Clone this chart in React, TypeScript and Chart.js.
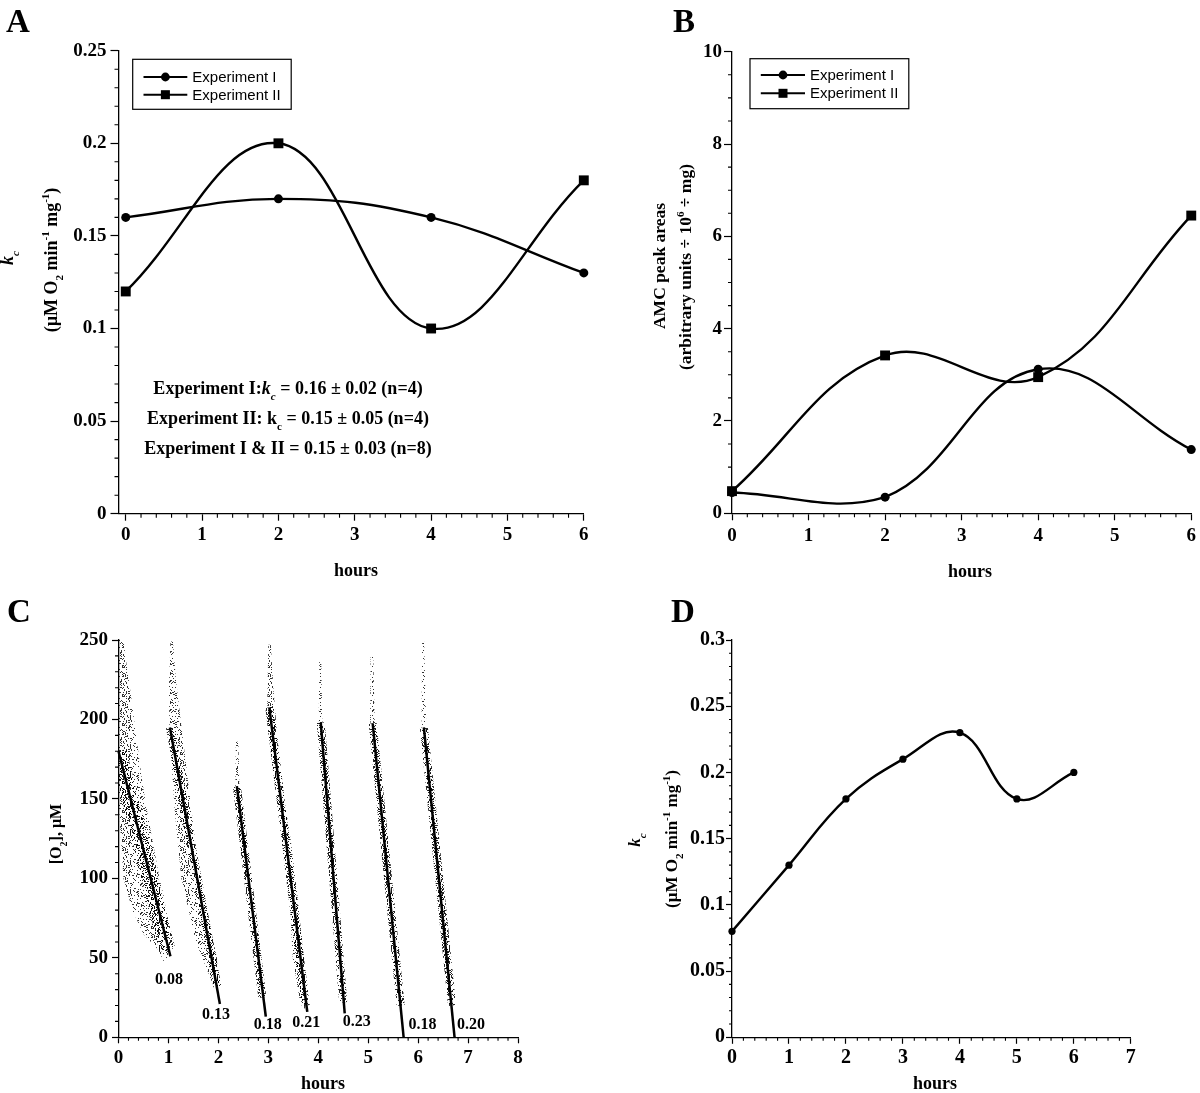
import React, { useEffect, useRef } from 'react';
import { Chart, registerables } from 'chart.js';

Chart.register(...registerables);

const SERIF = '"Liberation Serif", "Times New Roman", Times, serif';
const SANS = '"Liberation Sans", Arial, Helvetica, sans-serif';

// ---------------- Panel A : k_c vs hours ----------------
const seriesLabels = ['Experiment I', 'Experiment II'];
const hoursA = [0, 2, 4, 6];
const kcExperimentI = [0.16, 0.17, 0.16, 0.13];
const kcExperimentII = [0.12, 0.2, 0.1, 0.18];
const xTicksA = [0, 1, 2, 3, 4, 5, 6];
const yTicksA = [0, 0.05, 0.1, 0.15, 0.2, 0.25];

// ---------------- Panel B : AMC peak areas ----------------
const hoursB = [0, 2, 4, 6];
const amcExperimentI = [0.45, 0.35, 3.12, 1.38];
const amcExperimentII = [0.48, 3.42, 2.95, 6.45];
const xTicksB = [0, 1, 2, 3, 4, 5, 6];
const yTicksB = [0, 2, 4, 6, 8, 10];

// ---------------- Panel C : [O2] traces ----------------
const runStartHours = [0, 1.03, 2.37, 3.02, 4.05, 5.09, 6.115];
const runStartO2 = [180, 195, 158, 207.6, 198, 197.6, 195];
const runEndHours = [1.04, 2.03, 2.95, 3.78, 4.53, 5.71, 6.73];
const runEndO2 = [51, 21, 13, 16, 15, 0, 0];
const runRateLabels = ['0.08', '0.13', '0.18', '0.21', '0.23', '0.18', '0.20'];
const runLabelHours = [1.01, 1.95, 2.99, 3.76, 4.77, 6.09, 7.06];
const runLabelO2 = [36, 14, 8, 9, 10, 8, 8];
// end of the dense part of each measured trace, [hours, µM]
const traceEndHours = [0.98, 1.98, 2.88, 3.75, 4.5, 5.65, 6.68];
const traceEndO2 = [55, 32, 25, 20, 22, 20, 20];
// envelopes of the measured point clouds, [hours, µM]
const cloudRun1 = [[0.0, 250], [0.0, 150], [0.05, 125], [0.1, 100], [0.28, 80], [0.5, 65], [0.8, 55], [0.9, 48], [1.02, 50], [1.0, 70], [0.9, 90], [0.82, 100], [0.68, 124], [0.58, 141], [0.47, 162], [0.34, 193], [0.25, 215], [0.16, 235], [0.1, 250]];
const cloudRun2 = [[1.04, 249], [1.01, 220], [1.02, 193], [1.13, 141], [1.26, 100], [1.55, 60], [1.87, 35], [1.97, 30], [2.02, 33], [1.97, 50], [1.88, 62], [1.68, 92], [1.58, 110], [1.47, 141], [1.27, 193], [1.15, 225], [1.09, 249]];
const cloudRun3 = [[2.35, 186], [2.34, 158], [2.43, 130], [2.55, 100], [2.67, 70], [2.79, 40], [2.86, 24], [2.93, 24], [2.89, 40], [2.77, 70], [2.65, 100], [2.54, 130], [2.42, 158], [2.4, 186]];
const cloudRun4 = [[3.0, 247], [2.98, 210], [3.0, 193], [3.18, 150], [3.31, 124], [3.42, 90], [3.49, 50], [3.62, 25], [3.72, 18], [3.78, 20], [3.71, 50], [3.58, 90], [3.45, 124], [3.32, 150], [3.17, 193], [3.1, 220], [3.05, 247]];
const cloudRun5 = [[4.02, 237], [4.01, 200], [4.13, 150], [4.26, 100], [4.39, 50], [4.47, 22], [4.53, 22], [4.49, 50], [4.35, 100], [4.22, 150], [4.08, 200], [4.06, 237]];
const cloudRun6 = [[5.05, 241], [5.04, 200], [5.19, 150], [5.35, 100], [5.5, 50], [5.6, 20], [5.68, 20], [5.6, 50], [5.44, 100], [5.29, 150], [5.13, 200], [5.1, 241]];
const cloudRun7 = [[6.08, 249], [6.07, 200], [6.21, 150], [6.37, 100], [6.52, 50], [6.62, 20], [6.7, 20], [6.62, 50], [6.46, 100], [6.3, 150], [6.16, 200], [6.12, 249]];
const cloudRuns = [cloudRun1, cloudRun2, cloudRun3, cloudRun4, cloudRun5, cloudRun6, cloudRun7];
const xTicksC = [0, 1, 2, 3, 4, 5, 6, 7, 8];
const yTicksC = [0, 50, 100, 150, 200, 250];

// ---------------- Panel D : k_c vs hours ----------------
const hoursD = [0, 1, 2, 3, 4, 5, 6];
const kcD = [0.08, 0.13, 0.18, 0.21, 0.23, 0.18, 0.2];
const xTicksD = [0, 1, 2, 3, 4, 5, 6, 7];
const yTicksD = [0, 0.05, 0.1, 0.15, 0.2, 0.25, 0.3];

// ---------------- helpers ----------------
type Seg = { t: string; it?: boolean; s?: 'sub' | 'sup' };

function drawRich(ctx: any, segs: Seg[], x: number, y: number, size: number, align: 'left' | 'center', rot = 0) {
  ctx.save();
  ctx.translate(x, y);
  ctx.rotate(rot);
  ctx.textBaseline = 'alphabetic';
  ctx.textAlign = 'left';
  ctx.fillStyle = '#000';
  const fontOf = (sg: Seg) => `${sg.it ? 'italic ' : ''}bold ${sg.s ? Math.round(size * 0.62) : size}px ${SERIF}`;
  let w = 0;
  for (const sg of segs) {
    ctx.font = fontOf(sg);
    w += ctx.measureText(sg.t).width;
  }
  let cx = align === 'center' ? -w / 2 : 0;
  for (const sg of segs) {
    ctx.font = fontOf(sg);
    const dy = sg.s === 'sub' ? size * 0.35 : sg.s === 'sup' ? -size * 0.42 : 0;
    ctx.fillText(sg.t, cx, dy);
    cx += ctx.measureText(sg.t).width;
  }
  ctx.restore();
}

const pts = (xs: number[], ys: number[]) => xs.map((x, i) => ({ x, y: ys[i] }));
const fmt = (v: any) => String(Number(Number(v).toFixed(4)));

function linearAxis(o: any) {
  return {
    type: 'linear',
    position: o.horizontal ? 'bottom' : 'left',
    min: o.min,
    max: o.max,
    afterBuildTicks: (s: any) => {
      s.ticks = o.ticks.map((v: number) => ({ value: v }));
    },
    afterFit: (s: any) => {
      if (o.horizontal) s.height = o.size;
      else s.width = o.size;
    },
    grid: { display: true, drawOnChartArea: false, drawTicks: true, tickLength: o.tickLength, tickWidth: 1.2, tickColor: '#000', color: '#000' },
    border: { display: true, color: '#000', width: 1.3 },
    ticks: {
      color: '#000',
      padding: o.pad,
      autoSkip: false,
      maxRotation: 0,
      minRotation: 0,
      font: { family: SERIF, size: o.font, weight: 'bold' },
      callback: (v: any) => fmt(v),
    },
  };
}

function baseOptions(padding: any, x: any, y: any) {
  return {
    responsive: false,
    animation: false,
    events: [],
    layout: { padding, autoPadding: false },
    plugins: { legend: { display: false }, tooltip: { enabled: false }, title: { display: false } },
    scales: { x, y },
  };
}

function curve(label: string, data: any[], pointStyle: string, radius: number) {
  return {
    label,
    data,
    showLine: true,
    tension: 0.4,
    borderColor: '#000',
    borderWidth: 2.4,
    backgroundColor: '#000',
    pointStyle,
    pointRadius: radius,
    pointBackgroundColor: '#000',
    pointBorderColor: '#000',
    pointBorderWidth: 0,
    clip: false,
  };
}

function deco(p: any) {
  return {
    id: 'deco',
    afterDraw(chart: any) {
      const ctx = chart.ctx;
      ctx.save();
      ctx.strokeStyle = '#000';
      ctx.lineWidth = 1.1;
      const minor = (scale: any, step: number, len: number, majors: number[]) => {
        const i0 = Math.ceil(scale.min / step - 1e-9);
        const i1 = Math.floor(scale.max / step + 1e-9);
        ctx.beginPath();
        for (let i = i0; i <= i1; i++) {
          const v = Math.round(i * step * 1e6) / 1e6;
          if (majors.some((m) => Math.abs(m - v) < 1e-6)) continue;
          const px = scale.getPixelForValue(v);
          if (scale.isHorizontal()) {
            ctx.moveTo(px, scale.top);
            ctx.lineTo(px, scale.top + len);
          } else {
            ctx.moveTo(scale.right - len, px);
            ctx.lineTo(scale.right, px);
          }
        }
        ctx.stroke();
      };
      minor(chart.scales.x, p.minorX, p.minorLenX, p.xTicks);
      minor(chart.scales.y, p.minorY, p.minorLenY, p.yTicks);

      if (p.pointLabels) {
        ctx.fillStyle = '#000';
        ctx.font = `bold 16px ${SERIF}`;
        ctx.textAlign = 'center';
        ctx.textBaseline = 'middle';
        p.pointLabels.texts.forEach((t: string, i: number) => {
          ctx.fillText(t, chart.scales.x.getPixelForValue(p.pointLabels.xs[i]), chart.scales.y.getPixelForValue(p.pointLabels.ys[i]));
        });
      }

      ctx.translate(-p.ox, -p.oy);
      ctx.fillStyle = '#000';
      ctx.textAlign = 'left';
      ctx.textBaseline = 'alphabetic';
      ctx.font = `bold 33px ${SERIF}`;
      ctx.fillText(p.letter.t, p.letter.x, p.letter.y);

      ctx.font = `bold 18px ${SERIF}`;
      ctx.textAlign = 'center';
      ctx.fillText('hours', p.hours.x, p.hours.y);

      for (const yt of p.yTitles) {
        drawRich(ctx, yt.segs, yt.x, yt.y, yt.size, 'center', -Math.PI / 2);
      }
      if (p.notes) {
        for (const n of p.notes) drawRich(ctx, n.segs, n.x, n.y, 18, 'center', 0);
      }
      if (p.legend) {
        const L = p.legend;
        ctx.strokeStyle = '#000';
        ctx.lineWidth = 1.2;
        ctx.strokeRect(L.x0, L.y0, L.x1 - L.x0, L.y1 - L.y0);
        chart.data.datasets.forEach((ds: any, i: number) => {
          const y = L.rows[i];
          ctx.lineWidth = 2;
          ctx.beginPath();
          ctx.moveTo(L.lx0, y);
          ctx.lineTo(L.lx1, y);
          ctx.stroke();
          ctx.fillStyle = '#000';
          if (ds.pointStyle === 'rect') ctx.fillRect(L.mx - 4.5, y - 4.5, 9, 9);
          else {
            ctx.beginPath();
            ctx.arc(L.mx, y, 4.4, 0, Math.PI * 2);
            ctx.fill();
          }
          ctx.font = `15px ${SANS}`;
          ctx.textAlign = 'left';
          ctx.textBaseline = 'middle';
          ctx.fillText(ds.label, L.tx, y + 1);
        });
      }
      ctx.restore();
    },
  };
}

// speckle texture used to render the dense measurement clouds (a fill style)
function makeSpecklePattern(ctx: any, percent: number, alpha: number) {
  const n = 29;
  const tile = document.createElement('canvas');
  tile.width = n;
  tile.height = n;
  const t = tile.getContext('2d') as CanvasRenderingContext2D;
  t.fillStyle = `rgba(0,0,0,${alpha})`;
  for (let y = 0; y < n; y++) {
    for (let x = 0; x < n; x++) {
      let h = Math.imul(x + 11, 73856093) ^ Math.imul(y + 7, 19349663);
      h = Math.imul(h ^ (h >>> 13), 1274126177);
      h = (h ^ (h >>> 16)) >>> 0;
      if (h % 100 < percent) t.fillRect(x, y, 1, 1);
    }
  }
  return ctx.createPattern(tile, 'repeat');
}

// ---------------- configs ----------------
function configA() {
  return {
    type: 'scatter',
    data: {
      datasets: [
        curve(seriesLabels[0], pts(hoursA, kcExperimentI), 'circle', 4.5),
        curve(seriesLabels[1], pts(hoursA, kcExperimentII), 'rect', 7),
      ],
    },
    options: baseOptions(
      { left: 0, top: 50.7, right: 16.2, bottom: 26.3 },
      linearAxis({ horizontal: true, min: -0.095, max: 6, ticks: xTicksA, size: 50, tickLength: 7, pad: 3, font: 19 }),
      linearAxis({ horizontal: false, min: 0, max: 0.25, ticks: yTicksA, size: 118.5, tickLength: 8, pad: 4, font: 19 })
    ),
    plugins: [
      deco({
        ox: 0, oy: 0,
        xTicks: xTicksA, yTicks: yTicksA, minorX: 0.2, minorY: 0.01, minorLenX: 4, minorLenY: 4,
        letter: { t: 'A', x: 6, y: 32 },
        hours: { x: 356, y: 576 },
        yTitles: [
          { segs: [{ t: 'k', it: true }, { t: 'c', it: true, s: 'sub' }], x: 13, y: 258, size: 18 },
          { segs: [{ t: '(µM O' }, { t: '2', s: 'sub' }, { t: ' min' }, { t: '-1', s: 'sup' }, { t: ' mg' }, { t: '-1', s: 'sup' }, { t: ')' }], x: 57, y: 260, size: 18 },
        ],
        notes: [
          { segs: [{ t: 'Experiment I:' }, { t: 'k', it: true }, { t: 'c', it: true, s: 'sub' }, { t: ' = 0.16 ± 0.02 (n=4)' }], x: 288, y: 394 },
          { segs: [{ t: 'Experiment II: k' }, { t: 'c', s: 'sub' }, { t: ' = 0.15 ± 0.05 (n=4)' }], x: 288, y: 424 },
          { segs: [{ t: 'Experiment I & II = 0.15 ± 0.03 (n=8)' }], x: 288, y: 454 },
        ],
        legend: { x0: 132.7, y0: 59.3, x1: 291.2, y1: 109.3, rows: [77, 94.7], lx0: 143.5, lx1: 187.3, mx: 165.4, tx: 192.3 },
      }),
    ],
  };
}

function configB() {
  return {
    type: 'scatter',
    data: {
      datasets: [
        curve(seriesLabels[0], pts(hoursB, amcExperimentI), 'circle', 4.5),
        curve(seriesLabels[1], pts(hoursB, amcExperimentII), 'rect', 7),
      ],
    },
    options: baseOptions(
      { left: 0, top: 51.7, right: 3, bottom: 26.7 },
      linearAxis({ horizontal: true, min: 0, max: 6, ticks: xTicksB, size: 50, tickLength: 7, pad: 4, font: 19 }),
      linearAxis({ horizontal: false, min: 0, max: 10, ticks: yTicksB, size: 132, tickLength: 8, pad: 2, font: 19 })
    ),
    plugins: [
      deco({
        ox: 600, oy: 0,
        xTicks: xTicksB, yTicks: yTicksB, minorX: 0.2, minorY: 0.5, minorLenX: 4, minorLenY: 4,
        letter: { t: 'B', x: 673, y: 32 },
        hours: { x: 970, y: 577 },
        yTitles: [
          { segs: [{ t: 'AMC peak areas' }], x: 665, y: 266, size: 17.5 },
          { segs: [{ t: '(arbitrary units ÷ 10' }, { t: '6', s: 'sup' }, { t: ' ÷ mg)' }], x: 691, y: 267, size: 17.5 },
        ],
        legend: { x0: 750, y0: 58.7, x1: 908.8, y1: 108.7, rows: [75, 93.3], lx0: 760.8, lx1: 805, mx: 783, tx: 810 },
      }),
    ],
  };
}

function configC(sparse: any, dense: any) {
  const fitLines = runStartHours.map((h, i) => ({
    data: [{ x: h, y: runStartO2[i] }, { x: runEndHours[i], y: runEndO2[i] }],
    showLine: true,
    tension: 0,
    borderColor: '#000',
    borderWidth: 2.5,
    pointRadius: 0,
    clip: false,
  }));
  const cores = runStartHours.map((h, i) => ({
    data: [{ x: h, y: runStartO2[i] }, { x: traceEndHours[i], y: traceEndO2[i] }],
    showLine: true,
    tension: 0,
    borderColor: dense,
    borderWidth: i === 0 ? 16 : 8,
    borderCapStyle: 'butt',
    pointRadius: 0,
    clip: 0,
  }));
  const clouds = cloudRuns.map((c) => ({
    data: c.map(([x, y]) => ({ x, y })),
    showLine: true,
    tension: 0,
    fill: 'shape',
    backgroundColor: sparse,
    borderColor: 'rgba(0,0,0,0)',
    borderWidth: 0,
    pointRadius: 0,
    clip: 0,
  }));
  return {
    type: 'scatter',
    data: { datasets: [...fitLines, ...cores, ...clouds] },
    options: baseOptions(
      { left: 0, top: 50, right: 82, bottom: 5.7 },
      linearAxis({ horizontal: true, min: 0, max: 8, ticks: xTicksC, size: 50, tickLength: 6, pad: 3, font: 19 }),
      linearAxis({ horizontal: false, min: 0, max: 250, ticks: yTicksC, size: 118.5, tickLength: 6.5, pad: 4, font: 19 })
    ),
    plugins: [
      deco({
        ox: 0, oy: 590,
        xTicks: xTicksC, yTicks: yTicksC, minorX: 0.2, minorY: 10, minorLenX: 3.5, minorLenY: 3.5,
        letter: { t: 'C', x: 7, y: 622 },
        hours: { x: 323, y: 1089 },
        yTitles: [{ segs: [{ t: '[O' }, { t: '2', s: 'sub' }, { t: '], µM' }], x: 61, y: 834, size: 16 }],
        pointLabels: { texts: runRateLabels, xs: runLabelHours, ys: runLabelO2 },
      }),
    ],
  };
}

function configD() {
  return {
    type: 'scatter',
    data: { datasets: [curve('k_c', pts(hoursD, kcD), 'circle', 3.6)] },
    options: baseOptions(
      { left: 0, top: 50, right: 69.2, bottom: 5.7 },
      linearAxis({ horizontal: true, min: 0, max: 7, ticks: xTicksD, size: 50, tickLength: 6.5, pad: 2, font: 20 }),
      linearAxis({ horizontal: false, min: 0, max: 0.3, ticks: yTicksD, size: 132, tickLength: 6, pad: 1, font: 20 })
    ),
    plugins: [
      deco({
        ox: 600, oy: 590,
        xTicks: xTicksD, yTicks: yTicksD, minorX: 0.2, minorY: 0.01, minorLenX: 3.5, minorLenY: 3,
        letter: { t: 'D', x: 671, y: 622 },
        hours: { x: 935, y: 1089 },
        yTitles: [
          { segs: [{ t: 'k', it: true }, { t: 'c', it: true, s: 'sub' }], x: 640, y: 840, size: 17 },
          { segs: [{ t: '(µM O' }, { t: '2', s: 'sub' }, { t: ' min' }, { t: '-1', s: 'sup' }, { t: ' mg' }, { t: '-1', s: 'sup' }, { t: ')' }], x: 677, y: 839, size: 17 },
        ],
      }),
    ],
  };
}

export default function App() {
  const refA = useRef<HTMLCanvasElement | null>(null);
  const refB = useRef<HTMLCanvasElement | null>(null);
  const refC = useRef<HTMLCanvasElement | null>(null);
  const refD = useRef<HTMLCanvasElement | null>(null);

  useEffect(() => {
    const cctx = (refC.current as HTMLCanvasElement).getContext('2d');
    const sparse = makeSpecklePattern(cctx, 20, 0.8);
    const dense = makeSpecklePattern(cctx, 34, 0.85);
    const charts = [
      new Chart(refA.current as any, configA() as any),
      new Chart(refB.current as any, configB() as any),
      new Chart(refC.current as any, configC(sparse, dense) as any),
      new Chart(refD.current as any, configD() as any),
    ];
    return () => charts.forEach((c) => c.destroy());
  }, []);

  const cs = (left: number, top: number) => ({ position: 'absolute' as const, left, top });
  return (
    <div style={{ position: 'absolute', left: 0, top: 0, width: 1200, height: 1093, background: '#fff', overflow: 'hidden' }}>
      <canvas ref={refA} width={600} height={590} style={cs(0, 0)} />
      <canvas ref={refB} width={600} height={590} style={cs(600, 0)} />
      <canvas ref={refC} width={600} height={503} style={cs(0, 590)} />
      <canvas ref={refD} width={600} height={503} style={cs(600, 590)} />
    </div>
  );
}
